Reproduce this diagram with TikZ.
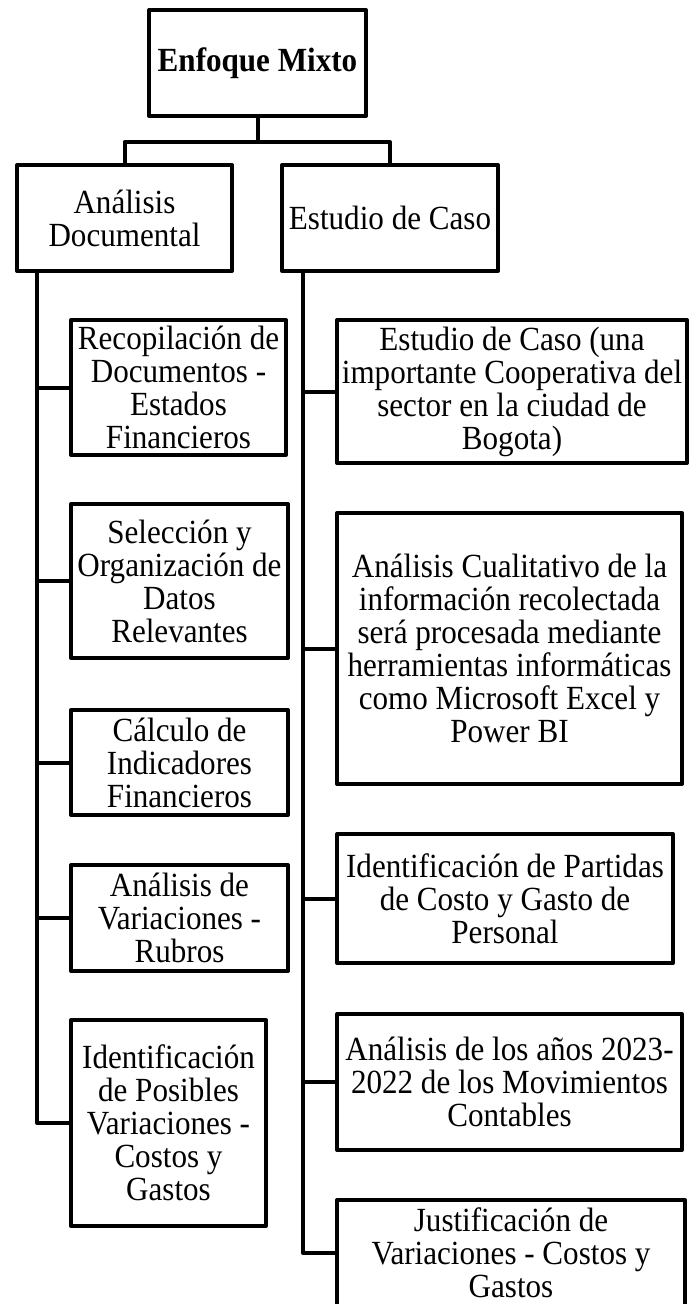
\documentclass[tikz,border=0pt]{standalone}
\usepackage{fontspec}
\setmainfont{Liberation Serif}[FakeStretch=0.92]

\begin{document}
\begin{tikzpicture}[
        x=1pt, y=-1pt,
        line width=4pt,
        line join=round,
        every node/.style={
            rectangle,
            draw,
            line width=4pt,
            align=center,
            inner sep=2pt,
            font=\fontsize{33.8}{33}\selectfont
        }
    ]
        \useasboundingbox (0,0) rectangle (691,1304);

        % Root
        \node (mix) [minimum width=217pt, minimum height=106pt, font=\fontsize{33.8}{33}\selectfont\bfseries] at (257.5,63) {Enfoque Mixto};

        % Two branches
        \node (doc) [minimum width=215pt, minimum height=106pt] at (124.5,218) {Análisis\\Documental};
        \node (caso) [minimum width=216pt, minimum height=106pt] at (390,218) {Estudio de Caso};

        % Left column (documental)
        \node (d1) [minimum width=215pt, minimum height=135pt] at (178.5,387.5) {Recopilación de\\Documentos -\\Estados\\Financieros};
        \node (d2) [minimum width=217pt, minimum height=154pt] at (179.5,581) {Selección y\\Organización de\\Datos\\Relevantes};
        \node (d3) [minimum width=217pt, minimum height=105pt] at (179.5,762.5) {Cálculo de\\Indicadores\\Financieros};
        \node (d4) [minimum width=217pt, minimum height=106pt] at (179.5,918) {Análisis de\\Variaciones -\\Rubros};
        \node (d5) [minimum width=195pt, minimum height=206pt] at (168.5,1123) {Identificación\\de Posibles\\Variaciones -\\Costos y\\Gastos};

        % Right column (caso)
        \node (c1) [minimum width=350pt, minimum height=143pt] at (512,391.5) {Estudio de Caso (una\\importante Cooperativa del\\sector en la ciudad de\\Bogota)};
        \node (c2) [minimum width=345pt, minimum height=271pt] at (509.5,648.5) {Análisis Cualitativo de la\\información recolectada\\será procesada mediante\\herramientas informáticas\\como Microsoft Excel y\\Power BI};
        \node (c3) [minimum width=336pt, minimum height=129pt] at (505,898.5) {Identificación de Partidas\\de Costo y Gasto de\\Personal};
        \node (c4) [minimum width=345pt, minimum height=136pt] at (509.5,1082) {Análisis de los años 2023-\\2022 de los Movimientos\\Contables};
        \node (c5) [minimum width=348pt, minimum height=106pt] at (511,1253) {Justificación de\\Variaciones - Costos y\\Gastos};

        % Edges
        \coordinate (fork) at (257.5,142);
        \coordinate (docfoot) at (37,271);
        \coordinate (casofoot) at (303,271);

        \draw (mix) -- (fork);
        \draw (fork) -| (doc);
        \draw (fork) -| (caso);

        \draw (docfoot) |- (d1);
        \draw (docfoot) |- (d2);
        \draw (docfoot) |- (d3);
        \draw (docfoot) |- (d4);
        \draw (docfoot) |- (d5);

        \draw (casofoot) |- (c1);
        \draw (casofoot) |- (c2);
        \draw (casofoot) |- (c3);
        \draw (casofoot) |- (c4);
        \draw (casofoot) |- (c5);
    \end{tikzpicture}
\end{document}
